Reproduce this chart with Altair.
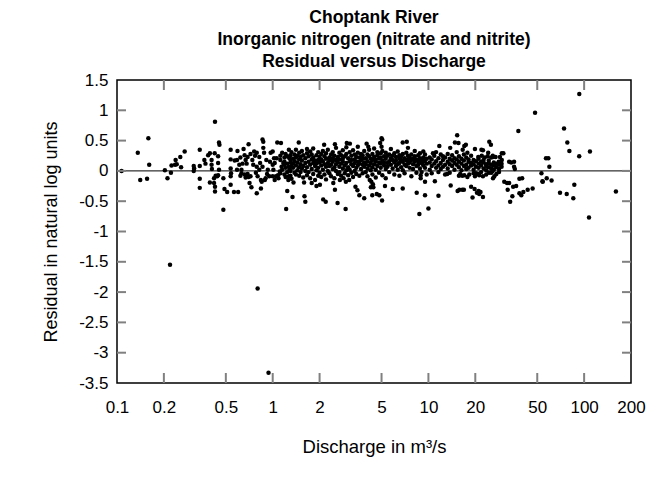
import altair as alt
import pandas as pd

# (discharge m3/s, residual)
low_flow = [
    (0.107, 0.00), (0.136, 0.30), (0.141, -0.15), (0.156, -0.13), (0.159, 0.54), (0.161, 0.10),
    (0.203, 0.01), (0.211, -0.12), (0.219, -1.55), (0.222, -0.03), (0.224, 0.09), (0.236, 0.10),
    (0.242, 0.11), (0.238, 0.18), (0.255, 0.23), (0.258, 0.06), (0.272, 0.32),
    (0.311, 0.08), (0.313, 0.04), (0.311, 0.00), (0.340, 0.35), (0.340, 0.08), (0.340, -0.13),
    (0.340, -0.28), (0.364, 0.18), (0.370, 0.12), (0.385, 0.26), (0.395, 0.29),
    (0.405, 0.18), (0.405, 0.10), (0.407, 0.03), (0.395, -0.19), (0.420, -0.20), (0.426, -0.26),
    (0.426, -0.34), (0.426, 0.81), (0.424, 0.29), (0.420, -0.12), (0.430, -0.08),
    (0.446, 0.24), (0.446, 0.13), (0.452, 0.02), (0.446, -0.07), (0.440, -0.09), (0.452, 0.47),
    (0.455, 0.43), (0.482, -0.64), (0.482, -0.12), (0.490, -0.30), (0.510, -0.35),
    (0.537, 0.35), (0.537, 0.19), (0.537, 0.04), (0.540, -0.04), (0.537, -0.09), (0.537, -0.23),
    (0.564, -0.35), (0.600, -0.35), (0.570, 0.17), (0.590, 0.18), (0.610, 0.10), (0.590, 0.02),
    (0.594, 0.33), (0.630, 0.02), (0.630, -0.04), (0.620, -0.08), (0.650, 0.36),
    (0.660, 0.26), (0.670, 0.18), (0.690, 0.23), (0.680, 0.12), (0.700, 0.44), (0.660, -0.06),
    (0.680, -0.08), (0.700, -0.10), (0.670, -0.11), (0.690, -0.05), (0.710, -0.20), (0.730, -0.27),
    (0.720, -0.09), (0.790, -0.37), (0.840, -0.29), (0.740, 0.18), (0.770, 0.25), (0.790, 0.30),
    (0.820, 0.23), (0.750, 0.10), (0.790, 0.07), (0.820, 0.02), (0.860, 0.07),
    (0.870, 0.48), (0.860, 0.52), (0.870, 0.38), (0.800, -0.09), (0.840, -0.15), (0.780, -0.03),
    (0.800, -1.94), (0.880, 0.30), (0.910, 0.18), (0.930, 0.02), (0.960, 0.15), (0.970, 0.30),
    (0.900, -0.12), (0.950, -0.09), (0.940, -3.33), (0.920, -0.05), (0.850, -0.18), (0.890, -0.15),
    (0.830, 0.13), (0.760, 0.32), (0.720, 0.28), (0.640, 0.12), (0.620, 0.22),
]

mid_low_flow = [
    (1.00, 0.32), (1.02, 0.21), (1.03, 0.13), (1.00, 0.10), (1.01, 0.02), (1.06, 0.21),
    (1.00, -0.09), (1.03, -0.15), (1.05, -0.09), (1.07, 0.47), (1.13, 0.46), (1.17, 0.13),
    (1.14, 0.07), (1.11, -0.01), (1.08, -0.07), (1.09, -0.12), (1.22, -0.63), (1.24, -0.33),
    (1.27, 0.35), (1.28, 0.21), (1.27, 0.07), (1.28, 0.02), (1.27, -0.09), (1.26, -0.15),
    (1.34, -0.43), (1.36, -0.19), (1.47, 0.47), (1.59, -0.19), (1.60, -0.42), (1.62, -0.51),
    (1.78, -0.20), (1.91, -0.25), (2.01, -0.23), (2.11, -0.47), (2.19, -0.51), (2.14, 0.43),
    (2.45, -0.20), (2.51, -0.31), (2.61, -0.53), (2.94, -0.63), (2.51, 0.44), (2.99, 0.46),
    (3.13, 0.45), (2.70, -0.15), (2.85, -0.12), (2.95, -0.18),
    (1.12, 0.25), (1.12, 0.18), (1.12, -0.04), (1.15, 0.30), (1.15, 0.02),
    (1.19, 0.22), (1.19, 0.10), (1.19, -0.06), (1.19, 0.15), (1.21, 0.28), (1.21, 0.05),
    (1.21, -0.10), (1.24, 0.12), (1.24, 0.24), (1.24, -0.02),
    (1.30, 0.26), (1.30, 0.14), (1.30, 0.00), (1.30, -0.08), (1.30, 0.19),
    (1.32, 0.31), (1.32, 0.08), (1.32, -0.13), (1.35, 0.20), (1.35, 0.05), (1.35, 0.12),
    (1.38, 0.27), (1.38, -0.03), (1.38, 0.16), (1.41, 0.35), (1.41, 0.09), (1.41, -0.06),
    (1.41, 0.22), (1.44, 0.14), (1.44, 0.01), (1.44, 0.25),
    (1.48, 0.19), (1.48, -0.08), (1.48, 0.06), (1.48, 0.30), (1.51, 0.23), (1.51, 0.11),
    (1.51, -0.02), (1.54, 0.33), (1.54, 0.04), (1.54, 0.17), (1.57, 0.08), (1.57, -0.11),
    (1.57, 0.26), (1.62, 0.21), (1.62, 0.13), (1.62, 0.00),
    (1.66, 0.29), (1.66, 0.06), (1.66, -0.07), (1.66, 0.36), (1.70, 0.15), (1.70, -0.02),
    (1.70, 0.24), (1.74, 0.10), (1.74, 0.32), (1.74, -0.12), (1.78, 0.19), (1.78, 0.03),
    (1.78, 0.27), (1.82, 0.13), (1.82, -0.05), (1.82, 0.22), (1.82, 0.37),
    (1.87, 0.08), (1.87, 0.17), (1.87, -0.15), (1.91, 0.26), (1.91, 0.01), (1.91, 0.12),
    (1.96, 0.31), (1.96, -0.08), (1.96, 0.18), (1.96, 0.05), (2.00, 0.14), (2.00, 0.23),
    (2.00, -0.03), (2.05, 0.09), (2.05, 0.28), (2.05, -0.10), (2.05, 0.19),
    (2.10, 0.16), (2.10, 0.02), (2.10, 0.33), (2.15, 0.24), (2.15, -0.06), (2.15, 0.11),
    (2.20, 0.07), (2.20, 0.20), (2.20, -0.14), (2.20, 0.29), (2.26, 0.13), (2.26, 0.35),
    (2.26, 0.00), (2.31, 0.22), (2.31, -0.04), (2.31, 0.17), (2.31, 0.08),
    (2.37, 0.27), (2.37, 0.10), (2.37, -0.09), (2.43, 0.15), (2.43, 0.03), (2.43, 0.31),
    (2.43, 0.21), (2.49, 0.06), (2.49, 0.25), (2.49, -0.12), (2.55, 0.18), (2.55, 0.38),
    (2.55, 0.00), (2.55, 0.11), (2.62, 0.23), (2.62, -0.05), (2.62, 0.14),
    (2.68, 0.30), (2.68, 0.07), (2.68, 0.19), (2.68, -0.02), (2.75, 0.12), (2.75, 0.26),
    (2.75, -0.08), (2.82, 0.04), (2.82, 0.20), (2.82, 0.34), (2.82, 0.15), (2.90, 0.09),
    (2.90, 0.24), (2.90, -0.04), (2.97, 0.28), (2.97, 0.13), (2.97, 0.01), (2.97, 0.39),
]

mid_flow = [
    (3.40, -0.26), (3.50, -0.32), (3.60, -0.40), (3.87, -0.45), (4.27, -0.27), (4.36, -0.40),
    (4.01, 0.45), (4.11, 0.40), (4.43, -0.27), (4.66, -0.38), (4.84, -0.40), (5.26, -0.25),
    (5.04, -0.49), (5.90, -0.30), (6.84, -0.29), (8.41, -0.36), (8.75, -0.71), (9.51, -0.40),
    (10.0, -0.62), (8.92, -0.07), (8.92, -0.12), (9.51, -0.18), (5.00, 0.54), (5.05, 0.52),
    (4.90, 0.46), (5.00, 0.40), (6.84, 0.47), (7.26, 0.48), (9.27, 0.32), (4.20, -0.15),
    (4.40, -0.22), (4.30, -0.18), (3.10, -0.15),
    (3.05, 0.21), (3.05, 0.06), (3.05, -0.07), (3.12, 0.16), (3.12, 0.31), (3.12, 0.02),
    (3.20, 0.25), (3.20, -0.03), (3.20, 0.11), (3.20, 0.18), (3.28, 0.08), (3.28, 0.34),
    (3.28, -0.10), (3.36, 0.19), (3.36, 0.13), (3.36, 0.27), (3.36, 0.00),
    (3.44, 0.23), (3.44, 0.05), (3.44, -0.05), (3.52, 0.30), (3.52, 0.15), (3.52, 0.09),
    (3.52, 0.40), (3.60, 0.12), (3.60, -0.08), (3.60, 0.22), (3.69, 0.17), (3.69, 0.03),
    (3.69, 0.28), (3.78, 0.26), (3.78, 0.10), (3.78, -0.04), (3.78, 0.20),
    (3.87, 0.07), (3.87, 0.33), (3.87, 0.14), (3.96, 0.21), (3.96, -0.02), (3.96, 0.11),
    (4.06, 0.16), (4.06, 0.27), (4.06, 0.04), (4.06, -0.09), (4.16, 0.24), (4.16, 0.09),
    (4.16, 0.35), (4.26, 0.13), (4.26, 0.01), (4.26, 0.20),
    (4.37, 0.28), (4.37, 0.06), (4.37, -0.06), (4.37, 0.18), (4.48, 0.11), (4.48, 0.23),
    (4.48, 0.37), (4.59, 0.19), (4.59, 0.02), (4.59, 0.15), (4.59, -0.11), (4.70, 0.26),
    (4.70, 0.08), (4.70, 0.31), (4.82, 0.14), (4.82, -0.03), (4.82, 0.21),
    (4.94, 0.22), (4.94, 0.12), (4.94, 0.05), (4.94, 0.29), (5.06, 0.17), (5.06, 0.33),
    (5.06, -0.07), (5.19, 0.09), (5.19, 0.24), (5.19, 0.14), (5.32, 0.20), (5.32, 0.03),
    (5.32, 0.30), (5.32, -0.12), (5.46, 0.13), (5.46, 0.25), (5.46, 0.07),
    (5.60, 0.27), (5.60, 0.16), (5.60, -0.02), (5.74, 0.10), (5.74, 0.21), (5.74, 0.36),
    (5.89, 0.18), (5.89, 0.04), (5.89, 0.25), (6.04, 0.14), (6.04, 0.29), (6.04, -0.06),
    (6.19, 0.23), (6.19, 0.08), (6.19, 0.17), (6.35, 0.11), (6.35, 0.32), (6.35, 0.02),
    (6.51, 0.20), (6.51, 0.13), (6.51, 0.26), (6.51, -0.08), (6.68, 0.06), (6.68, 0.18),
    (6.68, 0.24), (6.85, 0.15), (6.85, 0.28), (6.85, 0.01), (7.03, 0.21), (7.03, 0.10),
    (7.03, -0.04), (7.21, 0.17), (7.21, 0.30), (7.21, 0.08),
    (7.39, 0.25), (7.39, 0.12), (7.39, 0.19), (7.39, 0.38), (7.58, 0.05), (7.58, 0.22),
    (7.58, 0.14), (7.77, 0.18), (7.77, 0.27), (7.77, -0.09), (7.97, 0.11), (7.97, 0.20),
    (7.97, 0.03), (8.17, 0.24), (8.17, 0.15), (8.17, 0.33), (8.38, 0.08), (8.38, 0.19),
    (8.38, -0.03), (8.60, 0.16), (8.60, 0.26), (8.60, 0.10), (8.82, 0.21), (8.82, 0.04),
    (8.82, 0.29), (9.04, 0.13), (9.04, 0.18), (9.04, -0.02), (9.27, 0.22), (9.27, 0.09),
    (9.27, 0.15), (9.51, 0.17), (9.51, 0.27), (9.51, 0.05), (9.75, 0.12), (9.75, 0.20),
    (9.75, -0.06),
]

high_flow = [
    (10.7, 0.29), (11.75, 0.41), (13.8, 0.38), (14.8, 0.47), (15.3, 0.59), (15.6, 0.46),
    (11.0, -0.17), (11.6, -0.41), (13.2, -0.05), (13.9, -0.24), (15.4, -0.33), (15.8, -0.31),
    (16.5, -0.31), (16.9, -0.31), (17.0, 0.41), (17.4, 0.43), (16.6, 0.35), (17.8, 0.30),
    (19.9, 0.36), (21.9, 0.35), (22.4, 0.34), (24.2, 0.30), (24.6, 0.48), (25.2, 0.43),
    (30.3, 0.29), (28.3, 0.15), (29.6, 0.18), (20.9, 0.23), (22.0, 0.25), (23.0, 0.22),
    (24.0, 0.24), (25.3, 0.22), (25.9, 0.25),
    (18.8, -0.26), (19.2, -0.44), (19.8, -0.30), (20.5, -0.36), (21.0, -0.33), (21.6, -0.35),
    (22.4, -0.43), (21.2, -0.38), (16.0, -0.05), (16.5, -0.08), (17.8, -0.10), (18.3, -0.06),
    (19.9, -0.09), (21.2, -0.07), (22.4, -0.09), (23.5, -0.06), (26.5, -0.09), (27.3, -0.05),
    (26.0, -0.12), (17.0, -0.07), (19.5, -0.04), (20.8, -0.05), (24.5, -0.03), (25.7, -0.01),
    (30.7, -0.18), (32.0, -0.20), (33.0, -0.20), (32.3, -0.31), (33.5, -0.51), (34.6, -0.42),
    (35.0, -0.26), (36.6, -0.25), (38.4, -0.37), (39.5, -0.40), (40.7, -0.35), (38.4, -0.13),
    (40.0, -0.12), (43.4, -0.31), (46.7, -0.29), (53.2, -0.04), (54.0, -0.17),
    (33.0, 0.15), (35.5, 0.15), (35.5, 0.07), (35.9, 0.03), (34.0, 0.14), (26.0, 0.23),
    (27.0, 0.23), (28.8, 0.23), (29.6, 0.29), (37.8, 0.66), (48.4, 0.96),
    (10.2, 0.14), (10.2, 0.02), (10.2, 0.22), (10.5, 0.08), (10.5, 0.19), (10.5, -0.04),
    (10.9, 0.25), (10.9, 0.12), (11.2, 0.16), (11.2, 0.05), (11.2, 0.31), (11.6, 0.21),
    (11.6, 0.09), (11.6, -0.02), (12.0, 0.13), (12.0, 0.27), (12.0, 0.03), (12.4, 0.18),
    (12.4, 0.07), (12.4, 0.24), (12.8, 0.10), (12.8, 0.22), (12.8, -0.06), (13.3, 0.15),
    (13.3, 0.28), (13.3, 0.04), (13.7, 0.20), (13.7, 0.11), (13.7, -0.03), (14.2, 0.08),
    (14.2, 0.17), (14.2, 0.26), (14.7, 0.13), (14.7, 0.02), (14.7, 0.21), (15.2, 0.19),
    (15.2, 0.10), (15.2, 0.31), (15.7, 0.06), (15.7, 0.15), (15.7, -0.08), (15.7, 0.24),
    (16.3, 0.12), (16.3, 0.20), (16.3, 0.01), (16.9, 0.17), (16.9, 0.08), (16.9, 0.27),
    (17.5, 0.10), (17.5, 0.22), (17.5, 0.03), (18.1, 0.15), (18.1, 0.05), (18.1, 0.19),
    (18.8, 0.09), (18.8, 0.13), (18.8, 0.25), (19.5, 0.18), (19.5, 0.02), (19.5, 0.11),
    (20.2, 0.07), (20.2, 0.16), (20.2, -0.04), (21.0, 0.12), (21.0, 0.20), (21.0, 0.05),
    (21.8, 0.09), (21.8, 0.15), (21.8, -0.02), (22.6, 0.14), (22.6, 0.04), (22.6, 0.18),
    (23.5, 0.08), (23.5, 0.11), (23.5, 0.01), (24.4, 0.13), (24.4, 0.06), (24.4, 0.17),
    (25.3, 0.04), (25.3, 0.10), (25.3, -0.03), (26.3, 0.09), (26.3, 0.14), (26.3, 0.02),
    (27.3, 0.06), (27.3, 0.12), (28.4, 0.03), (28.4, 0.10), (28.4, -0.02), (29.5, 0.07),
    (29.5, 0.12),
]

flood_flow = [
    (54.2, -0.18), (56.9, 0.21), (58.9, 0.21), (59.8, 0.07), (57.5, -0.12), (61.8, -0.16),
    (70.0, -0.36), (77.3, -0.38), (85.2, -0.45), (86.5, -0.23), (74.3, 0.70), (78.0, 0.47),
    (80.4, 0.33), (93.0, 0.24), (93.1, 1.27), (109.0, 0.32), (107.5, -0.77), (160.0, -0.34),
]

x_tick_values = [0.1, 0.2, 0.5, 1, 2, 5, 10, 20, 50, 100, 200]
y_tick_values = [-3.5, -3.0, -2.5, -2.0, -1.5, -1.0, -0.5, 0.0, 0.5, 1.0, 1.5]
title_lines = ["Choptank River", "Inorganic nitrogen (nitrate and nitrite)", "Residual versus Discharge"]

W, H = 514, 303
FONT = "Liberation Sans"

df = pd.DataFrame(low_flow + mid_low_flow + mid_flow + high_flow + flood_flow, columns=["q", "r"])
xt = pd.DataFrame({"q": x_tick_values[1:-1]})
yt = pd.DataFrame({"r": y_tick_values[1:-1]})
zero = pd.DataFrame({"r": [0.0]})

xs = alt.Scale(type="log", domain=[0.1, 200], nice=False)
ys = alt.Scale(domain=[-3.5, 1.5], nice=False)

xaxis = alt.Axis(values=x_tick_values, labelExpr="toString(datum.value)", title="Discharge in m³/s",
                 tickSize=0, domain=False, grid=False, labelFontSize=17, titleFontSize=18.5,
                 labelPadding=16, titlePadding=22, labelFont=FONT, titleFont=FONT, labelOverlap=False,
                 labelColor="black", titleColor="black", titleFontWeight="normal", labelFlush=False)
yaxis = alt.Axis(values=y_tick_values, labelExpr="toString(datum.value)", title="Residual in natural log units",
                 tickSize=0, domain=False, grid=False, labelFontSize=17, titleFontSize=18,
                 labelPadding=9, titlePadding=18, labelFont=FONT, titleFont=FONT, labelOverlap=False,
                 labelSeparation=0, labelBound=False,
                 labelColor="black", titleColor="black", titleFontWeight="normal", labelFlush=False)

X = lambda: alt.X("q:Q", scale=xs, axis=xaxis, title="Discharge in m³/s")
Y = lambda: alt.Y("r:Q", scale=ys, axis=yaxis, title="Residual in natural log units")

points = alt.Chart(df).mark_circle(size=20, color="black", opacity=1).encode(x=X(), y=Y())
zline = alt.Chart(zero).mark_rule(color="black", strokeWidth=1).encode(y=Y())

tick_style = dict(color="#808080", strokeWidth=2)
y_left = alt.Chart(yt).mark_rule(**tick_style).encode(y=Y(), x=alt.value(0), x2=alt.value(9))
y_right = alt.Chart(yt).mark_rule(**tick_style).encode(y=Y(), x=alt.value(W - 9), x2=alt.value(W))
x_bottom = alt.Chart(xt).mark_rule(**tick_style).encode(x=X(), y=alt.value(H - 10), y2=alt.value(H))
x_top = alt.Chart(xt).mark_rule(**tick_style).encode(x=X(), y=alt.value(0), y2=alt.value(10))

chart = alt.layer(points, zline, y_left, y_right, x_bottom, x_top).properties(
    width=W, height=H,
    title=alt.TitleParams(text=title_lines, fontSize=17.5, fontWeight="bold", font=FONT, lineHeight=22,
                          anchor="middle", offset=1, color="black"),
    autosize=alt.AutoSizeParams(type="none"),
    padding={"left": 109, "top": 72, "right": 30, "bottom": 90},
).configure_view(stroke="black", strokeWidth=1.5)

chart.save("out.html", embed_options={"renderer": "svg", "actions": False})
